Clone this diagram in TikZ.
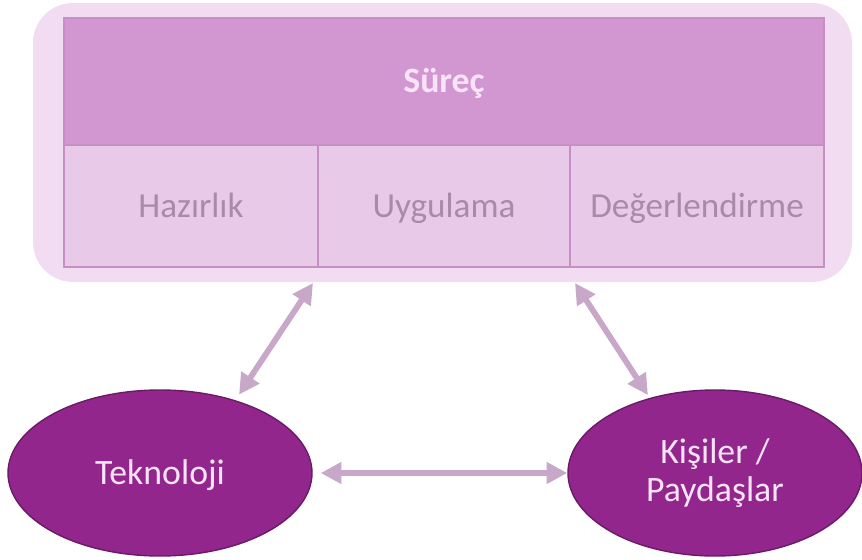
\documentclass[tikz,border=0pt]{standalone}
\usepackage{fontspec}
\setmainfont{Carlito}
\usetikzlibrary{arrows.meta}
\usetikzlibrary{shapes.geometric}
\definecolor{frameback}{HTML}{F2DCF2}
\definecolor{headfill}{HTML}{D297D1}
\definecolor{cellfill}{HTML}{E8CAE8}
\definecolor{tableline}{HTML}{C78FC6}
\definecolor{celltext}{HTML}{A98BA8}
\definecolor{headtext}{HTML}{F7E4F7}
\definecolor{actorfill}{HTML}{92268D}
\definecolor{actorline}{HTML}{6A1A67}
\definecolor{linkcol}{HTML}{C8A8C8}
\def\u{0.03cm}
\tikzstyle{frame} = [fill=frameback,rounded corners=1.2cm,minimum width=819*\u,minimum height=279*\u]
\tikzstyle{head} = [draw=tableline,line width=2.5pt,fill=headfill,text=headtext,minimum width=760*\u,minimum height=127*\u,font=\fontsize{30.5}{33}\selectfont\bfseries,text height=19.6pt,text depth=0pt]
\tikzstyle{cell} = [draw=tableline,line width=2.5pt,fill=cellfill,text=celltext,minimum height=122*\u,font=\fontsize{30}{33}\selectfont,text height=19.3pt,text depth=0pt]
\tikzstyle{actor} = [ellipse,draw=actorline,line width=1.2pt,fill=actorfill,text=headtext,inner sep=0pt,minimum height=166*\u,align=center,font=\fontsize{30.5}{32.5}\selectfont]
\tikzstyle{link} = [draw=linkcol,line width=5pt,{Triangle[length=0.62cm,width=0.62cm]}-{Triangle[length=0.62cm,width=0.62cm]}]

\begin{document}
\begin{tikzpicture}[x=0.03cm,y=-0.03cm]
\useasboundingbox (0,0) rectangle (862,560);

% Draw frame and table
    \node[frame] at (442.5,142.5) (frame) {};
    \node[head] at (444,81.5) (surec) {Süreç};
    \node[cell,minimum width=254*\u] at (191,206) (hazir) {Hazırlık};
    \node[cell,minimum width=252*\u] at (444,206) (uygu) {Uygulama};
    \node[cell,minimum width=254*\u] at (697,206) (deger) {Değerlendirme};

% Draw actors
    \node[actor,minimum width=304*\u,text height=19.6pt,text depth=0pt] at (160,473) (tekno) {Teknoloji};
    \node[actor,minimum width=294*\u] at (715,473) (kisi) {Kişiler /\\Paydaşlar};

% Draw links
    \coordinate (tabL) at (313,283);
    \coordinate (tabR) at (575,283);
    \draw[link,shorten <=0.2cm] (tekno.44) -- (tabL);
    \draw[link,shorten <=0.1cm] (kisi.131) -- (tabR);
    \draw[link,shorten <=0.24cm] (tekno.east) -- (kisi.west);

\end{tikzpicture}
\end{document}
